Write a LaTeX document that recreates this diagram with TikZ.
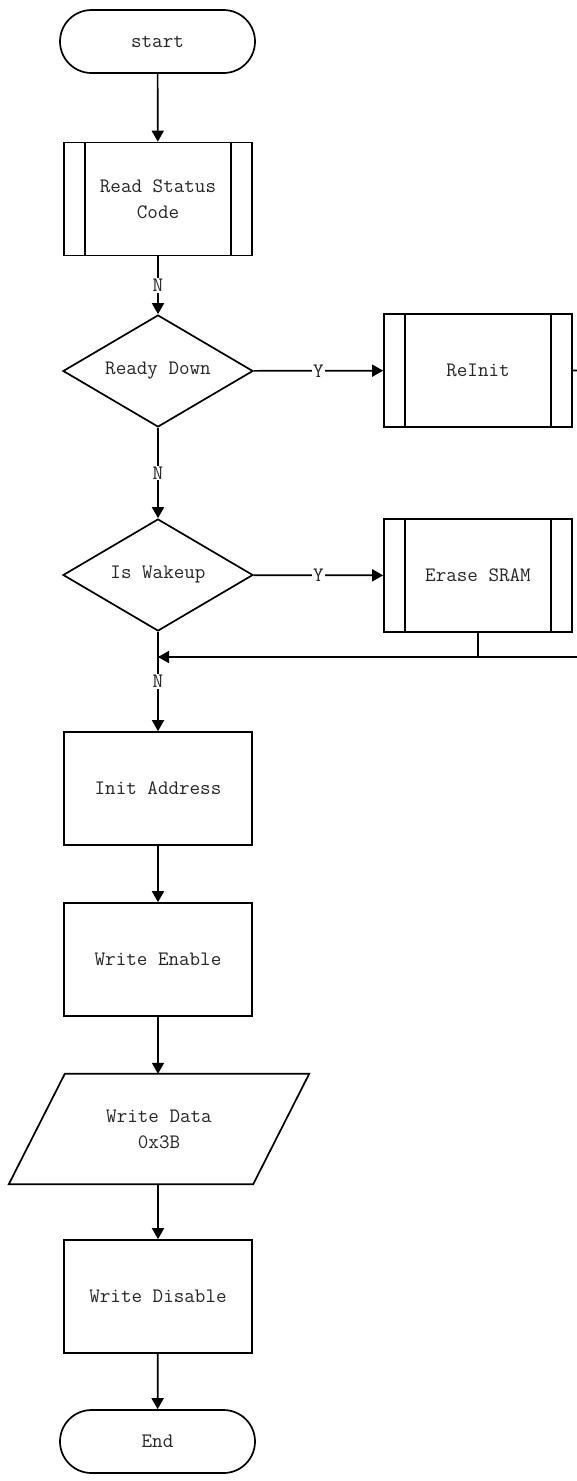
\documentclass[tikz,border=0pt]{standalone}
\usepackage{fontspec}
\usetikzlibrary{arrows.meta,shapes.geometric,calc}
\begin{document}
\begin{tikzpicture}[x=1pt,y=-1pt,
  every node/.style={font=\ttfamily\fontsize{20.5}{26}\selectfont, text=black!85},
  ln/.style={line width=1.7pt, draw=black},
  arr/.style={ln, -{Triangle[length=11pt,width=12pt]}},
  term/.style={ln, rectangle, rounded corners=31.5pt, minimum width=195pt, minimum height=63pt, inner sep=0pt},
  proc/.style={ln, rectangle, minimum width=188pt, minimum height=113pt, inner sep=0pt, align=center},
  sub/.style={proc, append after command={
     \pgfextra{\draw[line width=1.7pt] ($(\tikzlastnode.north west)+(22,0)$) -- ($(\tikzlastnode.south west)+(22,0)$);
     \draw[line width=1.7pt] ($(\tikzlastnode.north east)+(-22,0)$) -- ($(\tikzlastnode.south east)+(-22,0)$);}}},
  dec/.style={ln, diamond, aspect=1.7, minimum width=190pt, minimum height=112pt, inner sep=0pt},
  lbl/.style={fill=white, inner sep=1pt}
]
\useasboundingbox (0,0) rectangle (577,1481);
\fill[white] (0,0) rectangle (577,1481);
\clip (0,0) rectangle (577,1481);

\node[term] (start) at (157.5,41.5) {start};
\node[sub] (read) at (158,199) {Read Status\\Code};
\node[dec] (ready) at (158,371) {Ready Down};
\node[sub] (reinit) at (478,370.5) {ReInit};
\node[dec] (wake) at (158,575) {Is Wakeup};
\node[sub] (erase) at (478,575.5) {Erase SRAM};
\node[proc] (init) at (158,788.5) {Init Address};
\node[proc] (wen) at (158,959.5) {Write Enable};
\node[minimum width=244pt, minimum height=110pt, inner sep=0pt, align=center] (wdata) at (159,1129) {Write Data\\0x3B};
\draw[ln] ($(wdata.north west)+(28,0)$) -- ($(wdata.north east)+(28,0)$)
  -- ($(wdata.south east)+(-28,0)$) -- ($(wdata.south west)+(-28,0)$) -- cycle;
\node[proc] (wdis) at (158,1296.5) {Write Disable};
\node[term] (end) at (157.5,1441.5) {End};

\coordinate (j) at (158,657);
\coordinate (rx) at (600,371);
\coordinate (ry) at (600,657);

\draw[arr] (start) -- (read);
\draw[arr] (read) -- node[lbl] {N} (ready);
\draw[arr] (ready) -- node[lbl] {Y} (reinit);
\draw[arr] (ready) -- node[lbl] {N} (wake);
\draw[arr] (wake) -- node[lbl] {Y} (erase);
\draw[arr] (wake.south) -- node[lbl, pos=0.5] {N} (init.north);
\draw[ln] (reinit.east) -- (rx) -- (ry) -- (j);
\draw[arr] (erase.south) |- (j);
\draw[arr] (init) -- (wen);
\draw[arr] (wen.south) -- (wdata.north -| wen.south);
\draw[arr] (wdata.south -| wdis.north) -- (wdis.north);
\draw[arr] (wdis) -- (end);
\end{tikzpicture}
\end{document}
